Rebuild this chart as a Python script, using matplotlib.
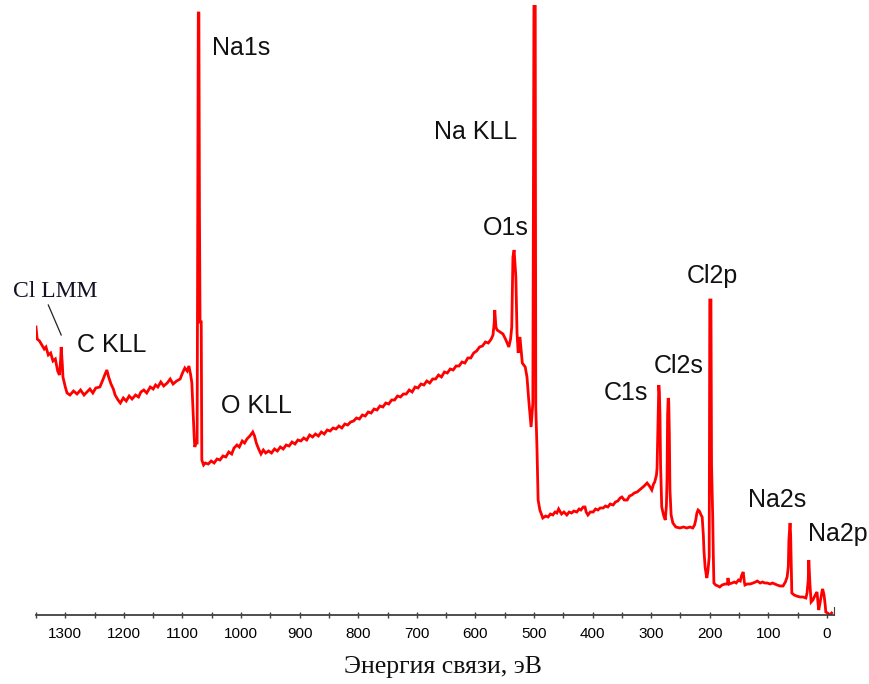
import matplotlib
matplotlib.use("Agg")
import matplotlib.pyplot as plt
from matplotlib.ticker import MultipleLocator

# Survey XPS spectrum: binding energy (eV) and intensity (arb. units)
binding_energy = [
    1350, 1348, 1344, 1340, 1336, 1333, 1329, 1325, 1321, 1317, 1313, 1310, 1308, 1307, 1305, 1304, 1300, 1297,
    1292, 1286, 1280, 1274, 1268, 1263, 1258, 1253, 1248, 1241, 1236, 1232, 1229, 1226, 1222, 1218, 1215, 1210,
    1206, 1201, 1196, 1191, 1186, 1180, 1175, 1171, 1166, 1161, 1155, 1150, 1146, 1142, 1137, 1132, 1126, 1121,
    1116, 1110, 1104, 1100, 1096, 1092, 1089, 1086, 1084, 1080, 1079, 1077, 1075, 1074, 1073, 1072, 1071, 1070,
    1068, 1067, 1064, 1061, 1056, 1051, 1046, 1041, 1036, 1031, 1026, 1021, 1016, 1012, 1007, 1003, 998, 994,
    990, 985, 980, 977, 974, 970, 966, 962, 958, 953, 948, 943, 938, 933, 928, 923, 918, 913, 908, 903, 898,
    893, 888, 883, 878, 873, 868, 863, 858, 853, 848, 843, 838, 833, 828, 823, 818, 813, 808, 803, 798, 793,
    788, 783, 778, 773, 768, 763, 758, 753, 748, 743, 738, 733, 728, 723, 718, 713, 708, 703, 698, 693, 688,
    683, 678, 673, 668, 663, 658, 653, 648, 643, 638, 633, 628, 623, 618, 613, 608, 603, 598, 593, 588, 583,
    578, 573, 570, 568, 567, 565, 563, 558, 553, 548, 543, 540, 538, 536, 534, 531, 529, 527, 524, 520, 515,
    512, 509, 505, 502, 500, 498, 497, 495, 493, 490, 487, 485, 480, 476, 472, 468, 464, 461, 458, 456, 453,
    449, 444, 440, 436, 432, 427, 423, 420, 416, 413, 411, 408, 404, 399, 395, 391, 387, 382, 378, 374, 370,
    365, 361, 357, 353, 350, 346, 341, 337, 333, 329, 324, 320, 316, 312, 307, 303, 299, 296, 294, 291, 290,
    288, 287, 286, 285, 284, 282, 279, 276, 274, 273, 272, 271, 270, 269, 268, 266, 263, 258, 251, 245, 239,
    234, 229, 226, 224, 222, 220, 218, 217, 215, 213, 211, 210, 208, 206, 205, 203, 201, 200, 198, 197, 195,
    194, 193, 190, 186, 183, 179, 174, 170, 169, 167, 162, 158, 155, 151, 148, 146, 143, 141, 140, 136, 131,
    126, 122, 119, 114, 110, 106, 102, 97, 93, 89, 85, 80, 75, 71, 68, 66, 65, 63, 62, 61, 60, 56, 52, 46,
    41, 36, 34, 32, 31, 30, 29, 27, 24, 20, 17, 15, 14, 11, 8, 7, 5, 3, 2, -1, -5, -8,
]
intensity = [
    288, 276, 274, 270, 266, 268, 260, 262, 254, 256, 244, 240, 255, 268, 250, 238, 228, 222,
    220, 224, 221, 225, 220, 223, 226, 222, 227, 228, 235, 241, 245, 238, 231, 226, 220, 215,
    212, 217, 214, 219, 216, 220, 218, 223, 225, 222, 228, 226, 230, 228, 233, 229, 232, 236,
    231, 234, 236, 242, 247, 244, 249, 240, 232, 178, 168, 172, 172, 400, 602, 602, 400, 293,
    293, 155, 150, 152, 151, 154, 152, 156, 155, 159, 158, 163, 161, 167, 170, 168, 174, 172,
    176, 179, 183, 179, 172, 166, 161, 165, 162, 164, 162, 166, 164, 168, 166, 170, 169, 173, 171, 175, 174,
    177, 175, 180, 178, 181, 179, 183, 181, 185, 184, 187, 186, 189, 187, 191, 190, 193, 194, 197, 196, 200,
    199, 203, 202, 206, 205, 209, 208, 212, 211, 215, 215, 219, 218, 221, 221, 225, 223, 228, 227, 231, 230,
    234, 232, 236, 236, 240, 238, 243, 242, 246, 245, 249, 249, 253, 252, 257, 257, 262, 264, 268, 269, 273,
    272, 276, 280, 292, 305, 288, 285, 283, 281, 275, 268, 276, 288, 358, 365, 338, 282, 262, 278, 252, 248,
    238, 215, 188, 212, 640, 640, 208, 168, 115, 105, 100, 97, 99, 98, 101, 100, 103, 102, 106, 104, 101,
    103, 100, 103, 102, 104, 103, 106, 105, 108, 108, 103, 100, 103, 103, 106, 105, 107, 107, 109, 108, 111,
    110, 113, 114, 117, 118, 115, 115, 119, 120, 122, 123, 125, 127, 129, 132, 129, 125, 131, 133, 140, 147,
    200, 230, 222, 200, 150, 108, 100, 95, 110, 135, 200, 217, 213, 180, 125, 100, 92, 88, 87, 88, 87,
    88, 87, 90, 95, 102, 105, 104, 103, 100, 98, 80, 65, 48, 40, 37, 45, 58, 315, 315, 150, 98,
    60, 32, 30, 29, 28, 30, 31, 31, 37, 31, 32, 33, 32, 35, 34, 39, 43, 33, 30, 31, 31,
    32, 33, 34, 32, 33, 32, 32, 31, 32, 31, 30, 29, 29, 33, 38, 48, 75, 92, 80, 50, 22, 20, 19, 18,
    18, 17, 22, 35, 55, 42, 30, 13, 15, 20, 23, 10, 5, 15, 25, 25, 20, 10, 3, 2, 0, 2,
]

# Peak assignments and where their labels sit (baseline, data units)
peak_labels = ["Na1s", "Na KLL", "O1s", "C KLL", "O KLL", "C1s", "Cl2s", "Cl2p", "Na2s", "Na2p"]
label_x = [1000, 599, 548, 1220, 974, 343, 253, 196, 85, -19]
label_y = [560, 476, 380, 263, 202, 215, 242, 332, 108, 74]

x_ticks = [1300, 1200, 1100, 1000, 900, 800, 700, 600, 500, 400, 300, 200, 100, 0]

fig = plt.figure(figsize=(8.7, 6.84), dpi=100)
ax = fig.add_axes([36 / 870, 69 / 684, 798 / 870, 610 / 684])

ax.plot(binding_energy, intensity, color="#ff0000", lw=2.0, solid_joinstyle="miter")

ax.set_xlim(1350, -12)
ax.set_ylim(0, 610)

for side in ("top", "left"):
    ax.spines[side].set_visible(False)
ax.spines["right"].set_bounds(0, 8)
ax.spines["right"].set_color("#404040")
ax.spines["bottom"].set_color("#404040")
ax.spines["bottom"].set_linewidth(1.3)
ax.set_yticks([])

ax.xaxis.set_major_locator(MultipleLocator(100))
ax.xaxis.set_minor_locator(MultipleLocator(50))
ax.set_xticks(x_ticks)
ax.set_xticklabels([str(t) for t in x_ticks], family="Liberation Sans", fontsize=11)
ax.tick_params(axis="x", which="both", direction="inout", length=5, width=1.0,
               color="#404040", pad=6)

for name, xv, yv in zip(peak_labels, label_x, label_y):
    ax.text(xv, yv, name, ha="center", va="baseline", fontsize=18,
            family="Liberation Sans", color="#111111", clip_on=False)

ax.text(1317, 318, "Cl LMM", ha="center", va="baseline", fontsize=17,
        family="Liberation Serif", color="#111122", clip_on=False)
ax.plot([1329, 1307], [310, 280], color="#222222", lw=0.9)

fig.text(443 / 870, 1 - 673 / 684, "Энергия связи, эВ", ha="center", va="baseline",
         fontsize=18.5, family="Liberation Serif", color="#111111")

fig.savefig("out.png", dpi=100, facecolor="white")
